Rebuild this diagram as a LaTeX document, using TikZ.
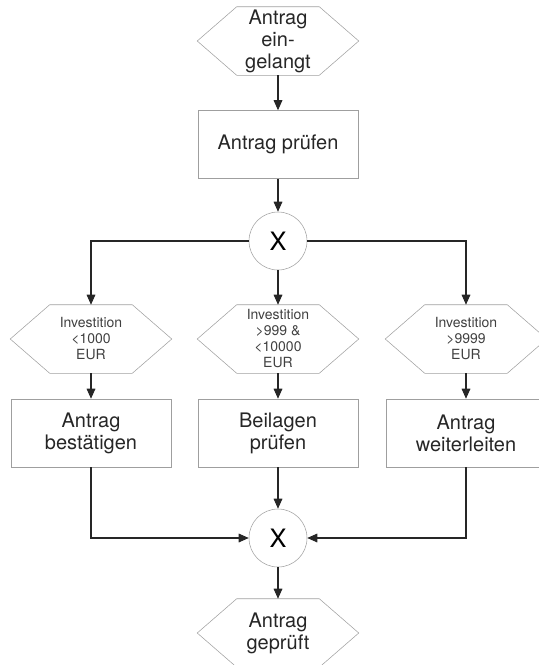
\documentclass[tikz,border=0pt]{standalone}
\usepackage{fontspec}
\setmainfont{TeX Gyre Heros}
\usetikzlibrary{arrows.meta}

\begin{document}
\begin{tikzpicture}[x=0.75pt,y=-0.75pt,
		hexa/.style={rectangle, text=black!85, minimum width=120.75pt, minimum height=51pt,
			inner sep=0pt, align=center, font=\fontsize{15}{16.5}\selectfont},
		smallhexa/.style={hexa, font=\fontsize{10.5}{12}\selectfont, text=black!75},
		hexline/.style={draw=gray!75, line join=miter},
		taskbox/.style={rectangle, draw=gray!75, text=black!85, minimum width=120pt, minimum height=51pt,
			inner sep=0pt, align=center, font=\fontsize{15}{16.5}\selectfont},
		xorgate/.style={circle, draw=gray!75, minimum size=43.5pt, inner sep=0pt, font=\fontsize{19}{19}\selectfont},
		flow/.style={-{Triangle[length=7.5pt,width=6.5pt]}, draw=black!85, line width=0.8pt}]
		\useasboundingbox (0,0) rectangle (539,665);
		
		% events and tasks
		\node[hexa] (eingang) at (278,41) {Antrag\\ein-\\gelangt};
		\node[taskbox] (pruefen) at (278,144.5) {Antrag prüfen};
		\node[xorgate] (split) at (278,241) {X};
		
		\node[smallhexa] (klein) at (91,339) {Investition\\<1000\\EUR};
		\node[smallhexa] (mittel) at (278,339) {Investition\\>999 \&\\<10000\\EUR};
		\node[smallhexa] (gross) at (466,339) {Investition\\>9999\\EUR};
		
		\node[taskbox] (bestaetigen) at (91,433) {Antrag\\bestätigen};
		\node[taskbox] (beilagen) at (278,433) {Beilagen\\prüfen};
		\node[taskbox] (weiterleiten) at (466,433) {Antrag\\weiterleiten};
		
		\node[xorgate] (join) at (278,538) {X};
		\node[hexa] (geprueft) at (278,633) {Antrag\\geprüft};
		
		% hexagon outlines round the event nodes
		\foreach \ev in {eingang,klein,mittel,gross,geprueft}
			\draw[hexline] (\ev.west) -- ([xshift=29.6pt]\ev.north west) -- ([xshift=-29.6pt]\ev.north east)
				-- (\ev.east) -- ([xshift=-29.6pt]\ev.south east) -- ([xshift=29.6pt]\ev.south west) -- cycle;
		
		% connectors
		\draw[flow] (eingang) -- (pruefen);
		\draw[flow] (pruefen) -- (split);
		\draw[flow] (split.west) -| (klein.north);
		\draw[flow] (split) -- (mittel);
		\draw[flow] (split.east) -| (gross.north);
		\draw[flow] (klein) -- (bestaetigen);
		\draw[flow] (mittel) -- (beilagen);
		\draw[flow] (gross) -- (weiterleiten);
		\draw[flow] (bestaetigen.south) |- (join.west);
		\draw[flow] (beilagen) -- (join);
		\draw[flow] (weiterleiten.south) |- (join.east);
		\draw[flow] (join) -- (geprueft);
	\end{tikzpicture}
\end{document}
